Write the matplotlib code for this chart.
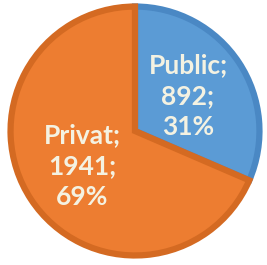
import matplotlib
matplotlib.use("Agg")
import matplotlib.pyplot as plt

categories = ["Public", "Privat"]
counts = [892, 1941]
percents = [31, 69]

fill_colors = ["#5B9BD5", "#ED7D31"]
edge_colors = ["#4A88C4", "#D46A22"]

labels = [f"{c};\n{n};\n{p}%" for c, n, p in zip(categories, counts, percents)]

fig = plt.figure(figsize=(2.67, 2.65), dpi=100)
ax = fig.add_axes([0, 0, 1, 1])

wedges, texts = ax.pie(
    counts,
    labels=labels,
    colors=fill_colors,
    startangle=90,
    counterclock=False,
    radius=0.98,
    labeldistance=0.51,
    textprops=dict(color="#F4F2E2", fontsize=19, fontfamily="Lato",
                   fontweight="bold", linespacing=1.35),
)
for w, ec in zip(wedges, edge_colors):
    w.set_edgecolor(ec)
    w.set_linewidth(4.5)
for t in texts:
    t.set_ha("center")
    t.set_va("center")

ax.set_xlim(-135 / 127, 132 / 127)
ax.set_ylim(-134 / 127, 131 / 127)
ax.set_aspect("auto")
ax.axis("off")

fig.savefig("out.png", dpi=100)
